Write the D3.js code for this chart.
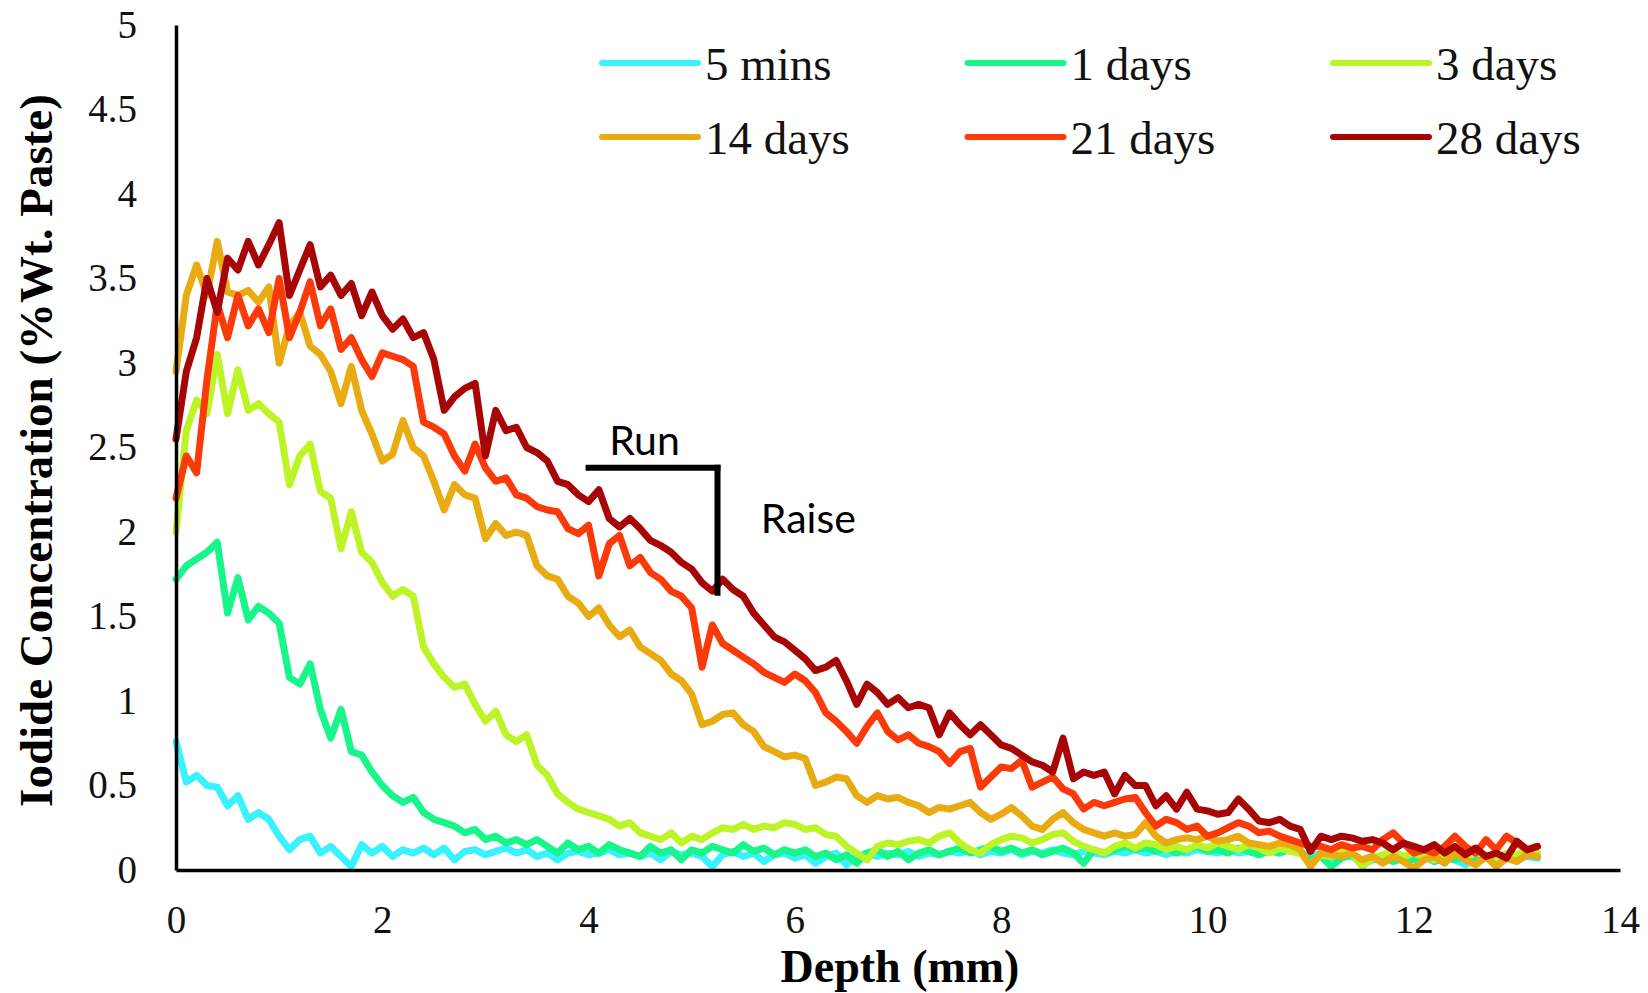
<!DOCTYPE html>
<html>
<head>
<meta charset="utf-8">
<script src="https://cdn.jsdelivr.net/npm/d3@7"></script>
<style>
  body { margin: 0; background: #fff; }
  svg { display: block; }
</style>
</head>
<body>
<div id="chart"></div>
<script>
// depth sampled every 0.1 mm, 0 .. 13.2
const DEPTH_STEP = 0.1;

const seriesNames = ["5 mins", "1 days", "3 days", "14 days", "21 days", "28 days"];
const seriesColors = ["#38f2fd", "#17f58b", "#bcf428", "#e8ab12", "#fb3a0a", "#a80606"];

const mins5 = [
  0.76,0.52,0.56,0.50,0.49,0.38,0.44,0.30,0.34,0.30,
  0.20,0.12,0.18,0.20,0.10,0.14,0.08,0.02,0.15,0.10,
  0.14,0.08,0.12,0.10,0.13,0.09,0.13,0.06,0.11,0.12,
  0.09,0.11,0.13,0.10,0.12,0.08,0.10,0.06,0.10,0.11,
  0.09,0.10,0.12,0.09,0.10,0.08,0.10,0.06,0.11,0.09,
  0.10,0.08,0.02,0.09,0.11,0.08,0.10,0.05,0.09,0.10,
  0.07,0.09,0.04,0.08,0.10,0.03,0.08,0.10,0.08,0.10,
  0.09,0.11,0.08,0.10,0.09,0.11,0.10,0.12,0.09,0.11,
  0.10,0.12,0.09,0.11,0.10,0.12,0.10,0.09,0.11,0.10,
  0.09,0.11,0.10,0.12,0.10,0.11,0.09,0.11,0.10,0.12,
  0.11,0.10,0.12,0.10,0.11,0.09,0.11,0.10,0.12,0.10,
  0.08,0.10,0.07,0.09,0.08,0.06,0.08,0.07,0.09,0.08,
  0.07,0.09,0.07,0.08,0.06,0.03,0.07,0.08,0.06,0.08,
  0.07,0.08,0.07
];

const day1 = [
  1.72,1.80,1.84,1.88,1.94,1.52,1.73,1.48,1.56,1.52,
  1.46,1.14,1.10,1.22,0.95,0.78,0.95,0.70,0.68,0.58,
  0.50,0.44,0.40,0.43,0.34,0.30,0.28,0.26,0.22,0.24,
  0.18,0.20,0.16,0.18,0.15,0.18,0.14,0.10,0.16,0.12,
  0.14,0.10,0.15,0.12,0.10,0.08,0.14,0.10,0.12,0.06,
  0.12,0.10,0.14,0.12,0.10,0.15,0.11,0.13,0.09,0.12,
  0.10,0.12,0.08,0.10,0.06,0.09,0.04,0.10,0.12,0.08,
  0.11,0.06,0.10,0.12,0.09,0.11,0.13,0.10,0.12,0.14,
  0.11,0.13,0.10,0.12,0.09,0.11,0.13,0.10,0.04,0.12,
  0.10,0.12,0.14,0.12,0.13,0.11,0.13,0.10,0.12,0.14,
  0.11,0.12,0.10,0.13,0.11,0.09,0.12,0.10,0.13,0.11,
  0.06,0.08,0.02,0.07,0.09,0.03,0.06,0.08,0.05,0.07,
  0.06,0.08,0.05,0.07,0.06,0.08,0.05,0.07,0.06,0.08,
  0.07,0.09,0.08
];

const day3 = [
  2.00,2.60,2.78,2.70,3.05,2.70,2.96,2.72,2.76,2.70,
  2.65,2.28,2.45,2.52,2.24,2.20,1.90,2.12,1.88,1.82,
  1.70,1.62,1.66,1.62,1.32,1.22,1.14,1.08,1.10,0.98,
  0.88,0.94,0.80,0.76,0.80,0.62,0.56,0.45,0.40,0.36,
  0.34,0.32,0.30,0.26,0.28,0.22,0.20,0.18,0.22,0.16,
  0.20,0.18,0.22,0.25,0.24,0.27,0.24,0.26,0.25,0.28,
  0.27,0.24,0.25,0.21,0.20,0.14,0.10,0.06,0.14,0.16,
  0.15,0.17,0.18,0.16,0.20,0.22,0.16,0.12,0.10,0.15,
  0.18,0.20,0.19,0.16,0.18,0.21,0.22,0.17,0.14,0.12,
  0.10,0.14,0.16,0.13,0.16,0.15,0.12,0.14,0.12,0.15,
  0.13,0.16,0.14,0.12,0.15,0.13,0.10,0.13,0.11,0.10,
  0.03,0.09,0.08,0.11,0.10,0.02,0.07,0.09,0.11,0.08,
  0.10,0.08,0.06,0.09,0.11,0.08,0.10,0.09,0.07,0.10,
  0.09,0.12,0.10
];

const day14 = [
  2.95,3.40,3.58,3.40,3.72,3.42,3.40,3.43,3.36,3.45,
  3.00,3.22,3.30,3.10,3.05,2.95,2.76,2.98,2.72,2.58,
  2.42,2.46,2.66,2.50,2.45,2.30,2.13,2.28,2.22,2.20,
  1.96,2.05,1.98,2.00,1.98,1.80,1.74,1.72,1.62,1.58,
  1.50,1.55,1.45,1.38,1.42,1.32,1.28,1.24,1.16,1.12,
  1.04,0.86,0.88,0.92,0.93,0.86,0.82,0.73,0.70,0.67,
  0.68,0.66,0.50,0.52,0.55,0.54,0.44,0.40,0.44,0.42,
  0.43,0.40,0.38,0.34,0.37,0.36,0.38,0.40,0.34,0.30,
  0.33,0.37,0.32,0.26,0.24,0.30,0.34,0.28,0.24,0.22,
  0.20,0.22,0.20,0.21,0.28,0.20,0.16,0.18,0.19,0.18,
  0.20,0.17,0.18,0.20,0.16,0.15,0.14,0.16,0.15,0.12,
  0.02,0.10,0.09,0.08,0.10,0.06,0.08,0.04,0.08,0.05,
  0.01,0.06,0.08,0.04,0.10,0.06,0.03,0.08,0.02,0.07,
  0.05,0.09,0.08
];

const day21 = [
  2.20,2.45,2.35,2.90,3.35,3.15,3.40,3.22,3.32,3.18,
  3.50,3.15,3.30,3.48,3.22,3.32,3.08,3.15,3.02,2.92,
  3.06,3.04,3.02,2.98,2.65,2.62,2.58,2.45,2.36,2.52,
  2.38,2.30,2.32,2.22,2.20,2.15,2.13,2.12,2.02,1.99,
  2.04,1.74,1.93,1.98,1.80,1.85,1.76,1.72,1.65,1.62,
  1.55,1.20,1.45,1.34,1.30,1.26,1.22,1.17,1.14,1.11,
  1.16,1.12,1.05,0.93,0.88,0.82,0.75,0.85,0.93,0.82,
  0.77,0.80,0.75,0.73,0.70,0.63,0.70,0.72,0.49,0.55,
  0.61,0.60,0.65,0.49,0.52,0.55,0.48,0.45,0.36,0.40,
  0.38,0.40,0.42,0.43,0.34,0.26,0.30,0.28,0.24,0.26,
  0.20,0.22,0.25,0.28,0.26,0.22,0.23,0.20,0.18,0.16,
  0.14,0.14,0.12,0.15,0.13,0.14,0.12,0.18,0.22,0.16,
  0.10,0.12,0.10,0.14,0.20,0.14,0.10,0.18,0.12,0.20,
  0.16,0.12,0.14
];

const day28 = [
  2.55,2.95,3.15,3.50,3.30,3.62,3.55,3.72,3.58,3.70,
  3.83,3.40,3.55,3.70,3.45,3.52,3.40,3.47,3.28,3.42,
  3.28,3.20,3.26,3.15,3.18,3.02,2.72,2.80,2.85,2.88,
  2.45,2.72,2.60,2.62,2.50,2.47,2.42,2.30,2.28,2.22,
  2.18,2.25,2.08,2.03,2.08,2.02,1.95,1.92,1.88,1.82,
  1.78,1.70,1.65,1.72,1.66,1.62,1.52,1.45,1.38,1.35,
  1.30,1.25,1.18,1.20,1.24,1.12,0.98,1.10,1.05,0.98,
  1.02,0.96,0.98,0.96,0.80,0.93,0.86,0.80,0.86,0.80,
  0.74,0.72,0.68,0.64,0.62,0.58,0.78,0.54,0.58,0.56,
  0.58,0.45,0.56,0.50,0.50,0.38,0.44,0.36,0.46,0.36,
  0.35,0.33,0.34,0.42,0.36,0.29,0.28,0.30,0.26,0.24,
  0.11,0.20,0.18,0.20,0.19,0.17,0.18,0.16,0.12,0.16,
  0.14,0.12,0.15,0.10,0.14,0.09,0.13,0.08,0.10,0.07,
  0.17,0.12,0.14
];

const allSeries = [mins5, day1, day3, day14, day21, day28];

const xTicks = [0, 2, 4, 6, 8, 10, 12, 14];
const yTicks = [0, 0.5, 1, 1.5, 2, 2.5, 3, 3.5, 4, 4.5, 5];

// run / raise bracket, in data units
const runLine = [[4.0, 2.38], [5.25, 2.38]];
const raiseLine = [[5.25, 2.38], [5.25, 1.64]];
const annoLabels = [
  { text: "Run", x: 4.2, y: 2.455 },
  { text: "Raise", x: 5.67, y: 1.995 }
];

const W = 1648, H = 993;
const margin = { left: 176, right: 28, top: 25, bottom: 123 };

const svg = d3.select("#chart").append("svg")
  .attr("width", W)
  .attr("height", H);

const x = d3.scaleLinear().domain([0, 14]).range([margin.left, W - margin.right]);
const y = d3.scaleLinear().domain([0, 5]).range([H - margin.bottom, margin.top]);

// lines
const line = d3.line()
  .x((d, i) => x(i * DEPTH_STEP))
  .y(d => y(d));

svg.append("g")
  .selectAll("path")
  .data(allSeries)
  .join("path")
  .attr("d", line)
  .attr("fill", "none")
  .attr("stroke", (d, i) => seriesColors[i])
  .attr("stroke-width", 7)
  .attr("stroke-linejoin", "round")
  .attr("stroke-linecap", "round");

// axes
const serif = "'Liberation Serif', 'Times New Roman', serif";

const yAxis = svg.append("g")
  .attr("transform", `translate(${x(0)},0)`)
  .call(d3.axisLeft(y).tickValues(yTicks).tickSize(0).tickPadding(39)
    .tickFormat(d3.format("")));

const xAxis = svg.append("g")
  .attr("transform", `translate(0,${y(0)})`)
  .call(d3.axisBottom(x).tickValues(xTicks).tickSize(0).tickPadding(35)
    .tickFormat(d3.format("")));

[xAxis, yAxis].forEach(g => {
  g.attr("font-family", null).attr("font-size", null);
  g.select(".domain").attr("stroke", "#000").attr("stroke-width", 3.5);
  g.selectAll("text")
    .style("font-family", serif)
    .style("font-size", "39px")
    .attr("fill", "#111");
});

// axis titles
svg.append("text")
  .attr("transform", `translate(52,${(y(0) + y(5)) / 2 + 3}) rotate(-90)`)
  .attr("text-anchor", "middle")
  .style("font-family", serif)
  .style("font-size", "47px")
  .style("font-weight", "bold")
  .text("Iodide Concentration (%Wt. Paste)");

svg.append("text")
  .attr("x", (x(0) + x(14)) / 2 + 2)
  .attr("y", 982)
  .attr("text-anchor", "middle")
  .style("font-family", serif)
  .style("font-size", "46px")
  .style("font-weight", "bold")
  .text("Depth (mm)");

// legend: 3 columns x 2 rows
const legend = svg.append("g")
  .selectAll("g")
  .data(seriesNames)
  .join("g")
  .attr("transform", (d, i) => `translate(${602 + (i % 3) * 365.5},${63 + Math.floor(i / 3) * 74})`);

legend.append("line")
  .attr("x1", 0).attr("x2", 96)
  .attr("stroke", (d, i) => seriesColors[i])
  .attr("stroke-width", 6)
  .attr("stroke-linecap", "round");

legend.append("text")
  .attr("x", 103)
  .attr("y", 17)
  .style("font-family", serif)
  .style("font-size", "47px")
  .attr("fill", "#111")
  .text(d => d);

// run / raise annotation
const anno = svg.append("g");
[runLine, raiseLine].forEach(seg => {
  anno.append("line")
    .attr("x1", x(seg[0][0])).attr("y1", y(seg[0][1]))
    .attr("x2", x(seg[1][0])).attr("y2", y(seg[1][1]))
    .attr("stroke", "#000")
    .attr("stroke-width", 6)
    .attr("stroke-linecap", "square");
});

anno.selectAll("text")
  .data(annoLabels)
  .join("text")
  .attr("x", d => x(d.x))
  .attr("y", d => y(d.y))
  .style("font-family", "Lato, 'Open Sans', sans-serif")
  .style("font-size", "41px")
  .text(d => d.text);
</script>
</body>
</html>
